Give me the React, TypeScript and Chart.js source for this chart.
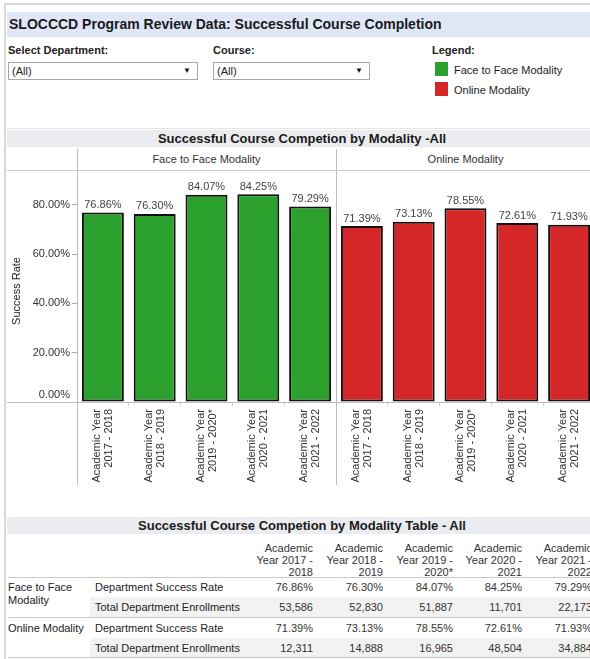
import React, { useEffect, useRef } from "react";
import { Chart, registerables } from "chart.js";
Chart.register(...registerables);

const FONT = '"Liberation Sans", Arial, sans-serif';

const years = ["2017 - 2018", "2018 - 2019", "2019 - 2020*", "2020 - 2021", "2021 - 2022"];
const modalities = ["Face to Face Modality", "Online Modality"];
const f2fRates = [76.86, 76.3, 84.07, 84.25, 79.29];
const onlineRates = [71.39, 73.13, 78.55, 72.61, 71.93];
const f2fEnrollments = [53586, 52830, 51887, 11701, 22173];
const onlineEnrollments = [12311, 14888, 16965, 48504, 34884];
const yTicks = [0, 20, 40, 60, 80];
const modalityColors = ["#2ca02c", "#d62728"];
const tableHeaders = [
  ["Academic", "Year 2017 -", "2018"],
  ["Academic", "Year 2018 -", "2019"],
  ["Academic", "Year 2019 -", "2020*"],
  ["Academic", "Year 2020 -", "2021"],
  ["Academic", "Year 2021 -", "2022"],
];
const colRight = [313, 383, 453, 522, 592];

const fmtPct = (v: number) => v.toFixed(2) + "%";
const fmtNum = (v: number) => v.toLocaleString("en-US");

const overlayPlugin = {
  id: "overlay",
  afterDraw(chart: any) {
    const ctx = chart.ctx;
    const ca = chart.chartArea;
    const xs = chart.scales.x;
    const ys = chart.scales.y;
    const ds = chart.data.datasets[0];
    ctx.save();
    // lines
    ctx.strokeStyle = "#bdbdbd";
    ctx.lineWidth = 1;
    const divX = Math.round((xs.getPixelForValue(4) + xs.getPixelForValue(5)) / 2) + 0.5;
    const leftX = Math.round(ca.left) + 0.5;
    ctx.beginPath();
    ctx.moveTo(leftX, 0);
    ctx.lineTo(leftX, 314);
    ctx.moveTo(divX, 0);
    ctx.lineTo(divX, 314);
    ctx.moveTo(7, Math.round(ca.bottom) + 0.5);
    ctx.lineTo(chart.width, Math.round(ca.bottom) + 0.5);
    ctx.stroke();

    // y tick labels
    ctx.font = `11px ${FONT}`;
    ctx.fillStyle = "#333";
    ctx.textAlign = "right";
    ctx.textBaseline = "middle";
    yTicks.forEach((v) => {
      const y = ys.getPixelForValue(v) - (v === 0 ? 7 : 0);
      ctx.fillText(fmtPct(v), ca.left - 7, y);
    });

    // value labels
    ctx.fillStyle = "#444";
    ctx.textAlign = "center";
    ctx.textBaseline = "bottom";
    const meta = chart.getDatasetMeta(0);
    meta.data.forEach((bar: any, i: number) => {
      ctx.fillText(fmtPct(ds.data[i]), bar.x, bar.y - 2);
    });

    // x labels
    ctx.fillStyle = "#333";
    ctx.textAlign = "right";
    ctx.textBaseline = "middle";
    chart.data.labels.forEach((lab: string[], i: number) => {
      const x = xs.getPixelForValue(i);
      ctx.save();
      ctx.translate(x, ca.bottom + 7);
      ctx.rotate(-Math.PI / 2);
      ctx.fillText(lab[0], 0, -6);
      ctx.fillText(lab[1], 0, 6);
      ctx.restore();
    });

    // y title
    ctx.save();
    ctx.translate(17, (ca.top + ca.bottom) / 2 + 4);
    ctx.rotate(-Math.PI / 2);
    ctx.textAlign = "center";
    ctx.textBaseline = "middle";
    ctx.fillStyle = "#222";
    ctx.fillText("Success Rate", 0, 0);
    ctx.restore();
    ctx.restore();
  },
};

function BarChart() {
  const ref = useRef<HTMLCanvasElement | null>(null);
  useEffect(() => {
    if (!ref.current) return;
    const labels = [...years, ...years].map((y) => ["Academic Year", y]);
    const values = [...f2fRates, ...onlineRates];
    const colors = [...years.map(() => modalityColors[0]), ...years.map(() => modalityColors[1])];
    const chart = new Chart(ref.current, {
      type: "bar",
      data: {
        labels,
        datasets: [
          {
            data: values,
            backgroundColor: colors,
            borderColor: "#111",
            borderWidth: 2,
            borderSkipped: false,
            barPercentage: 0.81,
            categoryPercentage: 1,
          } as any,
        ],
      },
      options: {
        responsive: false,
        animation: false,
        events: [],
        layout: { padding: { top: 1, right: 5, left: 0, bottom: 0 } },
        plugins: { legend: { display: false }, tooltip: { enabled: false } },
        scales: {
          x: {
            type: "category",
            offset: true,
            grid: { display: true, offset: true, drawOnChartArea: false, drawTicks: true, tickLength: 4, tickColor: "#d0d0d0" },
            border: { display: false },
            ticks: { display: false },
            afterFit: (s: any) => {
              s.height = 113;
            },
          },
          y: {
            min: 0,
            max: 93.3,
            afterBuildTicks: (s: any) => {
              s.ticks = yTicks.map((v) => ({ value: v }));
            },
            ticks: { display: false },
            grid: { display: true, drawOnChartArea: false, drawTicks: true, tickLength: 5, tickColor: "#aaa" },
            border: { display: false },
            afterFit: (s: any) => {
              s.width = 77;
            },
          },
        } as any,
      },
      plugins: [overlayPlugin],
    });
    return () => chart.destroy();
  }, []);
  return <canvas ref={ref} width={600} height={344} style={{ position: "absolute", left: 0, top: 171 }} />;
}

const abs = (s: React.CSSProperties): React.CSSProperties => ({ position: "absolute", ...s });

function Dropdown({ left, width }: { left: number; width: number }) {
  return (
    <div style={abs({ left, top: 62, width, height: 18, border: "1px solid #a9a9a9", boxSizing: "border-box", background: "#fff" })}>
      <span style={abs({ left: 3, top: 0, lineHeight: "16px", fontSize: 11, color: "#222" })}>(All)</span>
      <span style={abs({ right: 6, top: 0, lineHeight: "16px", fontSize: 8, color: "#111" })}>▼</span>
    </div>
  );
}

export default function App() {
  const rowTops = [577, 597, 618, 638];
  const rowsData = [
    f2fRates.map(fmtPct),
    f2fEnrollments.map(fmtNum),
    onlineRates.map(fmtPct),
    onlineEnrollments.map(fmtNum),
  ];
  const measures = ["Department Success Rate", "Total Department Enrollments", "Department Success Rate", "Total Department Enrollments"];
  return (
    <div style={abs({ left: 0, top: 0, width: 590, height: 659, overflow: "hidden", background: "#fff", fontFamily: FONT, color: "#222" })}>
      <div style={abs({ left: 4, top: 3, width: 586, height: 2, background: "#d8d8d8" })} />
      <div style={abs({ left: 4, top: 3, width: 2, height: 656, background: "#d8d8d8" })} />
      <div style={abs({ left: 7, top: 12, width: 583, height: 25, background: "#dfe7f6" })} />
      <div style={abs({ left: 9, top: 12, lineHeight: "25px", fontSize: 14, fontWeight: "bold", color: "#1a1a1a", whiteSpace: "nowrap" })}>
        SLOCCCD Program Review Data: Successful Course Completion
      </div>

      <div style={abs({ left: 8, top: 43, fontSize: 11, fontWeight: "bold", lineHeight: "14px" })}>Select Department:</div>
      <Dropdown left={8} width={190} />
      <div style={abs({ left: 213, top: 43, fontSize: 11, fontWeight: "bold", lineHeight: "14px" })}>Course:</div>
      <Dropdown left={213} width={157} />
      <div style={abs({ left: 432, top: 43, fontSize: 11, fontWeight: "bold", lineHeight: "14px" })}>Legend:</div>
      {modalities.map((m, i) => (
        <React.Fragment key={m}>
          <div style={abs({ left: 435, top: 62 + i * 20, width: 13, height: 14, background: modalityColors[i] })} />
          <div style={abs({ left: 454, top: 62 + i * 20, fontSize: 11, lineHeight: "16px", whiteSpace: "nowrap" })}>{m}</div>
        </React.Fragment>
      ))}

      <div style={abs({ left: 7, top: 128, width: 583, height: 1, background: "#e4e4e4" })} />
      <div style={abs({ left: 7, top: 130, width: 583, height: 17, background: "#ebecef" })} />
      <div style={abs({ left: 7, top: 130, width: 590, lineHeight: "17px", textAlign: "center", fontSize: 13, fontWeight: "bold", color: "#1a1a1a", whiteSpace: "nowrap" })}>
        Successful Course Competion by Modality -All
      </div>
      <div style={abs({ left: 77, top: 149, width: 1, height: 22, background: "#bdbdbd" })} />
      <div style={abs({ left: 336, top: 149, width: 1, height: 22, background: "#bdbdbd" })} />
      <div style={abs({ left: 77, top: 149, width: 259, lineHeight: "20px", textAlign: "center", fontSize: 11, color: "#333" })}>{modalities[0]}</div>
      <div style={abs({ left: 336, top: 149, width: 259, lineHeight: "20px", textAlign: "center", fontSize: 11, color: "#333" })}>{modalities[1]}</div>
      <div style={abs({ left: 7, top: 170, width: 583, height: 1, background: "#c8c8c8" })} />

      <BarChart />

      <div style={abs({ left: 7, top: 517, width: 583, height: 17, background: "#ebecef" })} />
      <div style={abs({ left: 7, top: 517, width: 590, lineHeight: "17px", textAlign: "center", fontSize: 13, fontWeight: "bold", color: "#1a1a1a", whiteSpace: "nowrap" })}>
        Successful Course Competion by Modality Table - All
      </div>
      {tableHeaders.map((h, i) => (
        <div key={i} style={abs({ left: colRight[i] - 90, top: 542, width: 90, textAlign: "right", fontSize: 11, lineHeight: "12px", color: "#333" })}>
          {h.map((l, j) => (
            <div key={j}>{l}</div>
          ))}
        </div>
      ))}
      {[1, 3].map((r) => (
        <div key={r} style={abs({ left: 90, top: rowTops[r], width: 510, height: 20, background: "#f2f2f2" })} />
      ))}
      {[577, 617, 657].map((y) => (
        <div key={y} style={abs({ left: 8, top: y, width: 590, height: 1, background: "#c8c8c8" })} />
      ))}
      <div style={abs({ left: 8, top: 581, fontSize: 11, lineHeight: "13px", color: "#222" })}>
        Face to Face
        <br />
        Modality
      </div>
      <div style={abs({ left: 8, top: 622, fontSize: 11, lineHeight: "13px", color: "#222", whiteSpace: "nowrap" })}>Online Modality</div>
      {measures.map((m, r) => (
        <div key={r} style={abs({ left: 95, top: rowTops[r], lineHeight: "20px", fontSize: 11, color: "#222", whiteSpace: "nowrap" })}>{m}</div>
      ))}
      {rowsData.map((row, r) =>
        row.map((v, c) => (
          <div key={r + "-" + c} style={abs({ left: colRight[c] - 70, top: rowTops[r], width: 70, textAlign: "right", lineHeight: "20px", fontSize: 11, color: "#333" })}>
            {v}
          </div>
        ))
      )}
    </div>
  );
}
